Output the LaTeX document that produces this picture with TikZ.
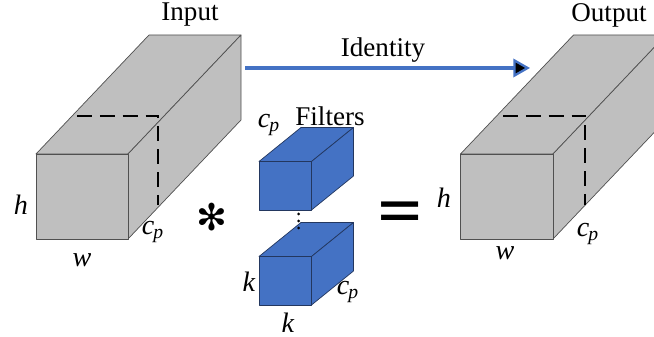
\documentclass[tikz,border=0pt]{standalone}
\usepackage{fontspec}
\setmainfont{Liberation Serif}
\newfontfamily\symfont{DejaVu Sans}
\newfontfamily\opfont{Liberation Sans}
\usepackage{tikz}
\usetikzlibrary{arrows.meta}
\usepackage{xcolor}
\definecolor{SlabGrey}{RGB}{191, 191, 191}
\definecolor{EdgeGrey}{RGB}{80, 80, 80}
\definecolor{FilterBlue}{RGB}{68, 114, 196}
\definecolor{FilterEdge}{RGB}{35, 55, 95}
\newcommand{\cpsym}{\textit{c}\textsubscript{\kern-0.5pt\textit{p}}}

\begin{document}
\begin{tikzpicture}[x=0.02cm, y=-0.02cm, every node/.style={inner sep=0pt, align=center, font=\fontsize{15.4}{17}\selectfont},
    greybox/.style={fill=SlabGrey, draw=EdgeGrey, line width=0.4pt, line join=round},
    bluebox/.style={fill=FilterBlue, draw=FilterEdge, line width=0.4pt, line join=round},
    cutline/.style={black, line width=1.2pt, dash pattern=on 8.5pt off 4.5pt},
    mathlabel/.style={font=\fontsize{16}{18}\selectfont}]
          \clip (0, 0) rectangle (654, 337);
          % Input block
          \draw[greybox] (36, 154) -- (149, 35) -- (241, 35) -- (128, 154) -- cycle;
          \draw[greybox] (128, 154) -- (241, 35) -- (241, 120) -- (128, 239) -- cycle;
          \draw[greybox] (36, 154) rectangle (128, 239);
          \draw[cutline] (77, 116) -- (158, 116) -- (158, 205);
          \node (input) at (190, 15) {Input};
          \node[mathlabel] (inputh) at (21, 205) {\textit{h}};
          \node[mathlabel] (inputw) at (82, 260) {\textit{w}};
          \node[mathlabel] (inputc) at (153, 232) {\cpsym};
          % Output block
          \draw[greybox] (460.5, 154) -- (573.5, 35) -- (666, 35) -- (553, 154) -- cycle;
          \draw[greybox] (553, 154) -- (666, 35) -- (666, 120) -- (553, 239) -- cycle;
          \draw[greybox] (460.5, 154) rectangle (553, 239);
          \draw[cutline] (503, 116) -- (585, 116) -- (585, 205);
          \node (output) at (609, 15) {Output};
          \node[mathlabel] (outputh) at (444, 198) {\textit{h}};
          \node[mathlabel] (outputw) at (505, 253) {\textit{w}};
          \node[mathlabel] (outputc) at (588, 234) {\cpsym};
          % Identity arrow
          \coordinate (idstart) at (245, 68);
          \coordinate (idend) at (530, 68);
          \draw[FilterBlue, line width=2pt, -{Triangle[length=9.5pt, width=10.5pt, line width=1.3pt, fill=black]}] (idstart) -- (idend);
          \node (identity) at (383, 50) {Identity};
          % Filter blocks
          \draw[bluebox] (259, 161.5) -- (301, 127.5) -- (353.5, 127.5) -- (311.5, 161.5) -- cycle;
          \draw[bluebox] (311.5, 161.5) -- (353.5, 127.5) -- (353.5, 176) -- (311.5, 210) -- cycle;
          \draw[bluebox] (259, 161.5) rectangle (311.5, 210);
          \draw[bluebox] (259, 256.5) -- (301, 222.5) -- (353.5, 222.5) -- (311.5, 256.5) -- cycle;
          \draw[bluebox] (311.5, 256.5) -- (353.5, 222.5) -- (353.5, 271) -- (311.5, 305) -- cycle;
          \draw[bluebox] (259, 256.5) rectangle (311.5, 305);
          \fill[black] (298.7, 214) circle (1.5);
          \fill[black] (298.7, 221) circle (1.5);
          \fill[black] (298.7, 228) circle (1.5);
          \node (filters) at (330, 116) {Filters};
          \node[mathlabel] (filterc) at (269, 125) {\cpsym};
          \node[mathlabel] (filterk) at (249, 282) {\textit{k}};
          \node[mathlabel] (filterb) at (288, 323) {\textit{k}};
          \node[mathlabel] (filterd) at (348, 292) {\cpsym};
          % Operators
          \node[font=\symfont\fontsize{21}{21}\selectfont] (convolve) at (212, 217) {✻};
          \node[font=\opfont\bfseries\fontsize{28}{28}\selectfont, xscale=1.5, transform shape] (equals) at (400, 215) {=};
        \end{tikzpicture}
\end{document}
